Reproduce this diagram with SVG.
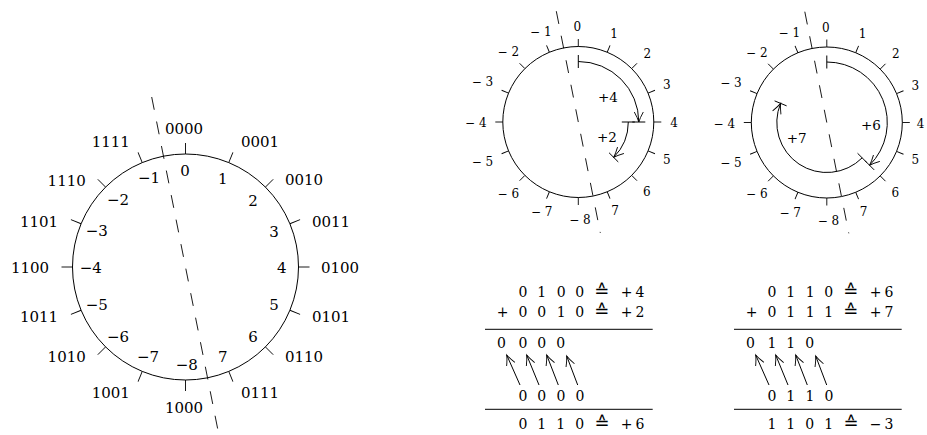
<svg xmlns="http://www.w3.org/2000/svg" xmlns:xlink="http://www.w3.org/1999/xlink" width="927" height="435" viewBox="0 0 927 435">
<style>
.c{fill:none;stroke:#000;stroke-width:1}
.tk{fill:none;stroke:#000;stroke-width:0.9}
.d{fill:none;stroke:#000;stroke-width:0.9;stroke-dasharray:13 12}
.t{font-family:"DejaVu Serif","Liberation Serif",serif;fill:#000;text-anchor:middle}
.L{font-size:15px}
.S{font-size:12px}
.M{font-size:13.5px}
.A{font-size:14px}
.eq{font-family:"DejaVu Sans","DejaVu Serif",sans-serif;font-size:18px}
.ar{fill:none;stroke:#000;stroke-width:1;marker-end:url(#ah)}
</style>
<defs>
<marker id="ah" markerUnits="userSpaceOnUse" viewBox="-11 -6 12 12" refX="0" refY="0" markerWidth="12" markerHeight="12" orient="auto" overflow="visible">
<path d="M-10,-4.5 Q-4,-1.2 0,0 Q-4,1.2 -10,4.5" fill="none" stroke="#000" stroke-width="0.9"/>
</marker>
<line id="tL" class="tk" x1="0" y1="-113" x2="0" y2="-124"/>
<line id="tS" class="tk" x1="0" y1="-75.5" x2="0" y2="-83"/>
</defs>

<g id="wheel-left">
<circle class="c" cx="185.5" cy="267" r="113"/>
<g transform="translate(185.5,267)">
<use xlink:href="#tL"/><use xlink:href="#tL" transform="rotate(22.5)"/><use xlink:href="#tL" transform="rotate(45)"/><use xlink:href="#tL" transform="rotate(67.5)"/>
<use xlink:href="#tL" transform="rotate(90)"/><use xlink:href="#tL" transform="rotate(112.5)"/><use xlink:href="#tL" transform="rotate(135)"/><use xlink:href="#tL" transform="rotate(157.5)"/>
<use xlink:href="#tL" transform="rotate(180)"/><use xlink:href="#tL" transform="rotate(202.5)"/><use xlink:href="#tL" transform="rotate(225)"/><use xlink:href="#tL" transform="rotate(247.5)"/>
<use xlink:href="#tL" transform="rotate(270)"/><use xlink:href="#tL" transform="rotate(292.5)"/><use xlink:href="#tL" transform="rotate(315)"/><use xlink:href="#tL" transform="rotate(337.5)"/>
</g>
<line class="d" x1="151.7" y1="97" x2="219.3" y2="437"/>
<g class="t L">
<text x="184" y="134">0000</text>
<text x="260" y="146.7">0001</text>
<text x="304" y="185">0010</text>
<text x="331" y="226.7">0011</text>
<text x="340" y="273.3">0100</text>
<text x="331" y="321.7">0101</text>
<text x="304" y="361.7">0110</text>
<text x="260" y="398.3">0111</text>
<text x="184" y="413.3">1000</text>
<text x="110.8" y="398.3">1001</text>
<text x="66.7" y="361.7">1010</text>
<text x="39" y="321.7">1011</text>
<text x="30" y="273.3">1100</text>
<text x="39" y="227">1101</text>
<text x="66.7" y="186">1110</text>
<text x="110.8" y="146.7">1111</text>
<text x="185" y="176">0</text>
<text x="222.7" y="184">1</text>
<text x="253" y="205.7">2</text>
<text x="274" y="236.7">3</text>
<text x="281.7" y="273.3">4</text>
<text x="274" y="310">5</text>
<text x="253" y="342">6</text>
<text x="222.7" y="362">7</text>
<text x="186.7" y="370">−8</text>
<text x="148" y="361.7">−7</text>
<text x="118" y="341.7">−6</text>
<text x="96.7" y="310">−5</text>
<text x="90.8" y="273.3">−4</text>
<text x="96.7" y="235.7">−3</text>
<text x="118" y="205">−2</text>
<text x="149" y="183.3">−1</text>
</g>
</g>

<g id="wheel-mid">
<circle class="c" cx="578.3" cy="122" r="75.5"/>
<g transform="translate(578.3,122)">
<use xlink:href="#tS"/><use xlink:href="#tS" transform="rotate(22.5)"/><use xlink:href="#tS" transform="rotate(45)"/><use xlink:href="#tS" transform="rotate(67.5)"/>
<use xlink:href="#tS" transform="rotate(90)"/><use xlink:href="#tS" transform="rotate(112.5)"/><use xlink:href="#tS" transform="rotate(135)"/><use xlink:href="#tS" transform="rotate(157.5)"/>
<use xlink:href="#tS" transform="rotate(180)"/><use xlink:href="#tS" transform="rotate(202.5)"/><use xlink:href="#tS" transform="rotate(225)"/><use xlink:href="#tS" transform="rotate(247.5)"/>
<use xlink:href="#tS" transform="rotate(270)"/><use xlink:href="#tS" transform="rotate(292.5)"/><use xlink:href="#tS" transform="rotate(315)"/><use xlink:href="#tS" transform="rotate(337.5)"/>
</g>
<line class="d" x1="556.3" y1="11.2" x2="600.3" y2="232.8"/>
<g class="t S">
<text x="577.3" y="31">0</text>
<text x="614" y="37.6">1</text>
<text x="647.3" y="57.6">2</text>
<text x="666.7" y="89.3">3</text>
<text x="674" y="127">4</text>
<text x="666.7" y="163.6">5</text>
<text x="646.7" y="196">6</text>
<text x="615" y="215">7</text>
<text x="580" y="224.3">− 8</text>
<text x="541.7" y="216">− 7</text>
<text x="508.3" y="197.6">− 6</text>
<text x="482.5" y="166">− 5</text>
<text x="475.8" y="127">− 4</text>
<text x="482.5" y="86">− 3</text>
<text x="508.3" y="56">− 2</text>
<text x="540.8" y="36">− 1</text>
</g>
<g class="t M">
<text x="608" y="101.6">+4</text>
<text x="607" y="141.6">+2</text>
</g>
</g>

<g id="wheel-right">
<circle class="c" cx="826.8" cy="122.5" r="75.5"/>
<g transform="translate(826.8,122.5)">
<use xlink:href="#tS"/><use xlink:href="#tS" transform="rotate(22.5)"/><use xlink:href="#tS" transform="rotate(45)"/><use xlink:href="#tS" transform="rotate(67.5)"/>
<use xlink:href="#tS" transform="rotate(90)"/><use xlink:href="#tS" transform="rotate(112.5)"/><use xlink:href="#tS" transform="rotate(135)"/><use xlink:href="#tS" transform="rotate(157.5)"/>
<use xlink:href="#tS" transform="rotate(180)"/><use xlink:href="#tS" transform="rotate(202.5)"/><use xlink:href="#tS" transform="rotate(225)"/><use xlink:href="#tS" transform="rotate(247.5)"/>
<use xlink:href="#tS" transform="rotate(270)"/><use xlink:href="#tS" transform="rotate(292.5)"/><use xlink:href="#tS" transform="rotate(315)"/><use xlink:href="#tS" transform="rotate(337.5)"/>
</g>
<line class="d" x1="804.8" y1="11.7" x2="848.8" y2="233.3"/>
<g class="t S">
<text x="825.8" y="31.5">0</text>
<text x="862.5" y="38.1">1</text>
<text x="895.8" y="58.1">2</text>
<text x="915.2" y="89.8">3</text>
<text x="920.5" y="127.5">4</text>
<text x="915.2" y="164.1">5</text>
<text x="895.2" y="196.5">6</text>
<text x="863.5" y="215.5">7</text>
<text x="828.5" y="224.8">− 8</text>
<text x="790.2" y="216.5">− 7</text>
<text x="756.8" y="198.1">− 6</text>
<text x="731" y="166.5">− 5</text>
<text x="724.3" y="127.5">− 4</text>
<text x="731" y="86.5">− 3</text>
<text x="756.8" y="56.5">− 2</text>
<text x="789.3" y="36.5">− 1</text>
</g>
<g class="t M">
<text x="871" y="130.3">+6</text>
<text x="796.7" y="143">+7</text>
</g>
</g>

<g id="sum-left" class="t A">
<text y="296.7"><tspan x="523 541.7 561.2 579.7">0100</tspan><tspan class="eq" x="601.7">≙</tspan><tspan x="626.5 640">+4</tspan></text>
<text y="317.3"><tspan x="502.5 523 541.7 561.2 579.7">+0010</tspan><tspan class="eq" x="601.7">≙</tspan><tspan x="626.5 640">+2</tspan></text>
<line class="c" x1="485" y1="329.3" x2="652.7" y2="329.3"/>
<text x="501.5 523 541.7 560.8" y="348">0000</text>
<text x="523 541.7 561 580" y="400.7">0000</text>
<line class="c" x1="485" y1="409.3" x2="652.7" y2="409.3"/>
<text y="429"><tspan x="523 541.7 560.8 579.7">0110</tspan><tspan class="eq" x="602">≙</tspan><tspan x="626.5 640">+6</tspan></text>
</g>

<g id="sum-right" class="t A">
<text y="296.7"><tspan x="772 790.7 810.2 828.7">0110</tspan><tspan class="eq" x="850.7">≙</tspan><tspan x="875.5 889">+6</tspan></text>
<text y="317.3"><tspan x="751.5 772 790.7 810.2 828.7">+0111</tspan><tspan class="eq" x="850.7">≙</tspan><tspan x="875.5 889">+7</tspan></text>
<line class="c" x1="734" y1="329.3" x2="901.7" y2="329.3"/>
<text x="750.5 772 790.7 809.8" y="348">0110</text>
<text x="772 790.7 810 829" y="400.7">0110</text>
<line class="c" x1="734" y1="409.3" x2="901.7" y2="409.3"/>
<text y="429"><tspan x="772 790.7 809.8 828.7">1101</tspan><tspan class="eq" x="851">≙</tspan><tspan x="875.5 889">−3</tspan></text>
</g>

<g id="connectors">
<path class="ar" d="M578.3,61.5 A60.5,60.5 0 0 1 638.8,122"/>
<line class="c" x1="578.3" y1="68" x2="578.3" y2="55"/>
<line class="c" x1="632.3" y1="122" x2="645.3" y2="122"/>
<path class="ar" d="M628.3,122 A50,50 0 0 1 613.66,157.36"/>
<line class="c" x1="621.8" y1="122" x2="634.8" y2="122"/>
<line class="c" x1="609.06" y1="152.76" x2="618.25" y2="161.95"/>
<path class="ar" d="M826.8,62 A60.5,60.5 0 0 1 869.58,165.28"/>
<line class="c" x1="826.8" y1="68.5" x2="826.8" y2="55.5"/>
<line class="c" x1="864.98" y1="160.68" x2="874.18" y2="169.88"/>
<path class="ar" d="M862.16,157.86 A50,50 0 0 1 780.61,103.37"/>
<line class="c" x1="857.56" y1="153.26" x2="866.75" y2="162.45"/>
<line class="c" x1="786.61" y1="105.85" x2="774.6" y2="100.88"/>
<line class="ar" x1="520" y1="385" x2="506.7" y2="355"/>
<line class="ar" x1="539" y1="385" x2="526.7" y2="355"/>
<line class="ar" x1="558.3" y1="385" x2="546.7" y2="355"/>
<line class="ar" x1="577.7" y1="385" x2="566.7" y2="356"/>
<line class="ar" x1="769" y1="385" x2="755.7" y2="355"/>
<line class="ar" x1="788" y1="385" x2="775.7" y2="355"/>
<line class="ar" x1="807.3" y1="385" x2="795.7" y2="355"/>
<line class="ar" x1="826.7" y1="385" x2="815.7" y2="356"/>
</g>
</svg>
